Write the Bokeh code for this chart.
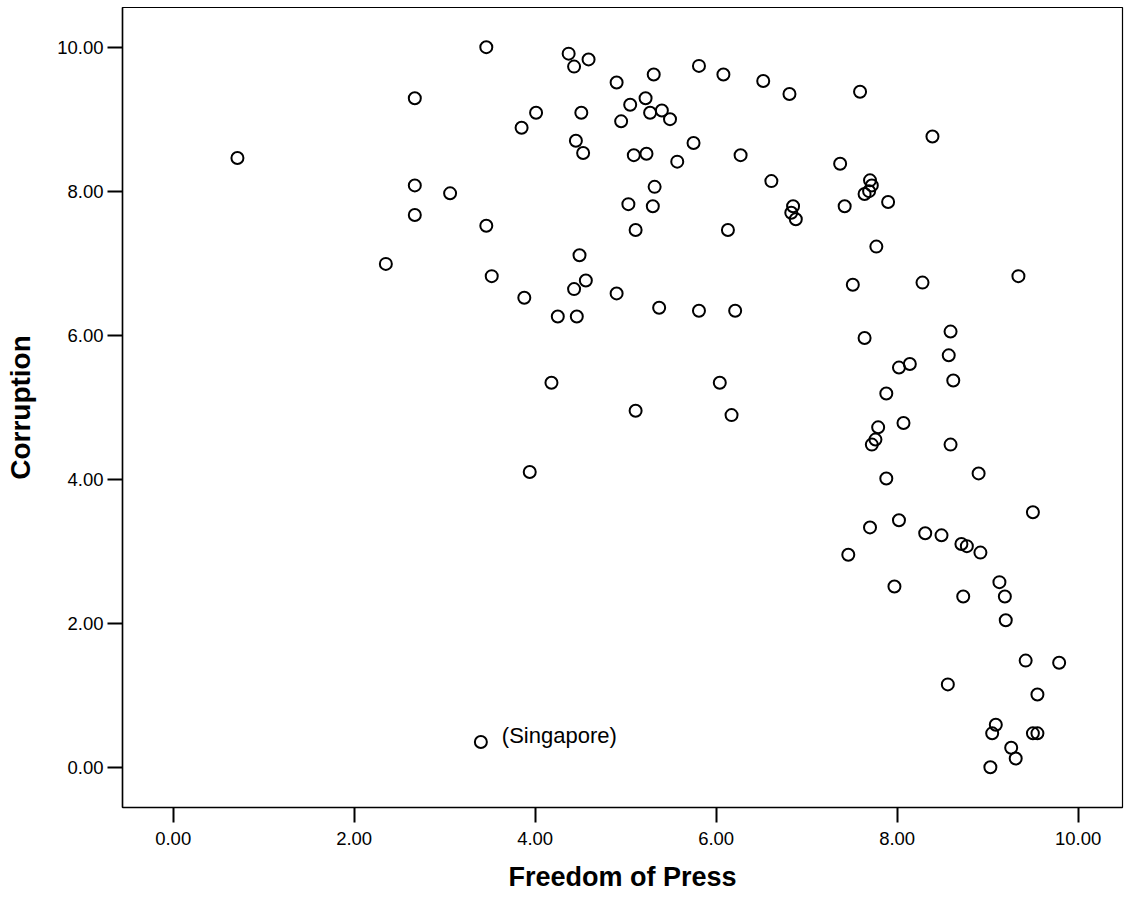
from bokeh.plotting import figure
from bokeh.models import ColumnDataSource, FixedTicker, Range1d, Label
from bokeh.embed import file_html
from bokeh.resources import INLINE

# Freedom of Press (x) and Corruption (y)
press = [3.46, 4.37, 4.43, 4.59, 2.67, 4.90, 5.31, 5.81, 6.08, 5.22,
         5.05, 4.01, 4.51, 5.27, 5.40, 5.49, 4.95, 3.85, 4.45, 4.53,
         5.09, 5.23, 5.57, 5.75, 6.27, 2.67, 3.06, 2.67, 3.46, 5.32,
         5.03, 5.30, 5.11, 6.13, 2.35, 3.52, 4.49, 4.56, 4.43, 3.88,
         4.90, 5.37, 5.81, 6.21, 4.25, 4.46, 6.52, 6.81, 7.59, 8.39,
         7.37, 6.61, 7.70, 7.72, 7.69, 7.64, 7.90, 7.42, 6.85, 6.83,
         6.88, 7.77, 9.34, 7.51, 8.28, 8.59, 7.64, 8.57, 8.14, 8.02,
         8.62, 7.88, 7.79, 8.07, 7.76, 7.72, 8.59, 8.90, 7.88, 9.50,
         8.02, 7.70, 8.31, 8.49, 8.71, 8.77, 8.92, 7.46, 7.97, 9.13,
         8.73, 9.19, 9.20, 9.42, 9.79, 8.56, 9.55, 9.09, 9.05, 9.50,
         9.55, 9.26, 9.31, 9.03, 0.71, 4.18, 6.04, 5.11, 6.17, 3.94,
         3.40]
corruption = [10.00, 9.91, 9.73, 9.83, 9.29, 9.51, 9.62, 9.74, 9.62, 9.29,
              9.20, 9.09, 9.09, 9.09, 9.12, 9.00, 8.97, 8.88, 8.70, 8.53,
              8.50, 8.52, 8.41, 8.67, 8.50, 8.08, 7.97, 7.67, 7.52, 8.06,
              7.82, 7.79, 7.46, 7.46, 6.99, 6.82, 7.11, 6.76, 6.64, 6.52,
              6.58, 6.38, 6.34, 6.34, 6.26, 6.26, 9.53, 9.35, 9.38, 8.76,
              8.38, 8.14, 8.15, 8.08, 8.00, 7.96, 7.85, 7.79, 7.79, 7.70,
              7.61, 7.23, 6.82, 6.70, 6.73, 6.05, 5.96, 5.72, 5.60, 5.55,
              5.37, 5.19, 4.72, 4.78, 4.55, 4.48, 4.48, 4.08, 4.01, 3.54,
              3.43, 3.33, 3.25, 3.22, 3.10, 3.07, 2.98, 2.95, 2.51, 2.57,
              2.37, 2.37, 2.04, 1.48, 1.45, 1.15, 1.01, 0.59, 0.47, 0.47,
              0.47, 0.27, 0.12, 0.00, 8.46, 5.34, 5.34, 4.95, 4.89, 4.10,
              0.35]

# labelled point
label_index = [110]
label_text = ["(Singapore)"]

x_ticks = [0, 2, 4, 6, 8, 10]
x_tick_labels = ["0.00", "2.00", "4.00", "6.00", "8.00", "10.00"]
y_ticks = [0, 2, 4, 6, 8, 10]
y_tick_labels = ["0.00", "2.00", "4.00", "6.00", "8.00", "10.00"]

FONT = "Liberation Sans"

p = figure(width=1124, height=898,
           x_range=Range1d(-0.560, 10.490), y_range=Range1d(-0.560, 10.551),
           output_backend="svg", toolbar_location=None,
           min_border_left=122, min_border_right=2,
           min_border_top=7, min_border_bottom=91,
           x_axis_label="Freedom of Press", y_axis_label="Corruption")

p.background_fill_color = "white"
p.border_fill_color = "white"
p.outline_line_color = "black"
p.outline_line_width = 1.2
p.grid.visible = False

src = ColumnDataSource(dict(x=press, y=corruption))
p.scatter("x", "y", source=src, size=12, fill_color=None,
          line_color="black", line_width=2)

for ax, ticks, labels in ((p.xaxis[0], x_ticks, x_tick_labels),
                          (p.yaxis[0], y_ticks, y_tick_labels)):
    ax.ticker = FixedTicker(ticks=ticks)
    ax.major_label_overrides = {t: l for t, l in zip(ticks, labels)}
    ax.minor_tick_line_color = None
    ax.major_tick_in = 0
    ax.major_tick_out = 15
    ax.major_tick_line_width = 2
    ax.major_tick_line_color = "black"
    ax.axis_line_color = "black"
    ax.axis_line_width = 1.5
    ax.major_label_text_font = FONT
    ax.major_label_text_font_size = "18.5px"
    ax.major_label_text_color = "black"
    ax.axis_label_text_font = FONT
    ax.axis_label_text_font_style = "bold"
    ax.axis_label_text_color = "black"

p.xaxis[0].axis_label_text_font_size = "27px"
p.yaxis[0].axis_label_text_font_size = "28px"
p.xaxis[0].major_label_standoff = 9
p.xaxis[0].axis_label_standoff = 14
p.yaxis[0].major_label_standoff = 4
p.yaxis[0].axis_label_standoff = 18

for i, t in zip(label_index, label_text):
    p.add_layout(Label(x=press[i], y=corruption[i], text=t,
                       x_offset=21, y_offset=6, text_baseline="middle",
                       text_font=FONT, text_font_size="22px",
                       text_color="black"))

open("out.html", "w").write(file_html(p, INLINE))
